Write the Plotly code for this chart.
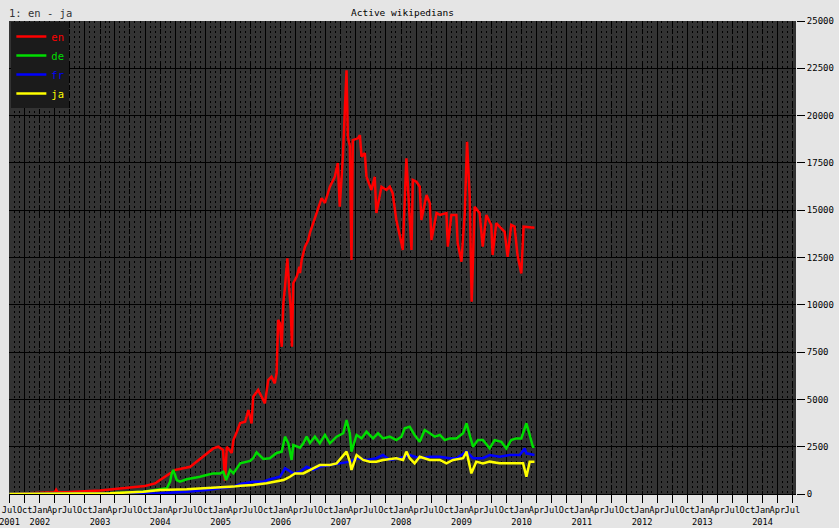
import plotly.graph_objects as go

# Active wikipedians per language
en_dates = [
    "2001-07-01", "2001-10-01", "2002-01-01", "2002-04-01", "2002-04-10", "2002-04-20",
    "2002-07-01", "2002-10-01", "2003-01-01", "2003-04-01", "2003-07-01", "2003-10-01",
    "2003-12-01", "2004-01-01", "2004-02-15", "2004-04-01", "2004-07-01", "2004-09-19",
    "2004-11-18", "2004-12-18", "2005-01-16", "2005-01-28", "2005-02-08", "2005-03-10",
    "2005-03-20", "2005-04-10", "2005-04-30", "2005-05-30", "2005-06-19", "2005-07-08",
    "2005-07-18", "2005-08-17", "2005-09-07", "2005-09-27", "2005-10-17", "2005-11-06",
    "2005-11-26", "2005-12-07", "2005-12-16", "2005-12-27", "2006-01-07", "2006-01-17",
    "2006-01-27", "2006-02-10", "2006-02-22", "2006-03-03", "2006-03-10", "2006-03-18",
    "2006-04-08", "2006-04-24", "2006-04-28", "2006-05-08", "2006-05-28", "2006-06-17",
    "2006-06-27", "2006-08-07", "2006-09-06", "2006-09-26", "2006-10-26", "2006-11-25",
    "2006-12-13", "2006-12-25", "2007-01-13", "2007-02-04", "2007-02-12", "2007-02-24",
    "2007-03-06", "2007-03-14", "2007-04-14", "2007-04-26", "2007-05-06", "2007-05-26",
    "2007-06-05", "2007-07-05", "2007-07-25", "2007-08-04", "2007-09-04", "2007-10-04",
    "2007-10-24", "2007-11-11", "2007-12-03", "2008-01-03", "2008-01-11", "2008-02-02",
    "2008-03-04", "2008-03-12", "2008-04-03", "2008-04-23", "2008-05-03", "2008-06-03",
    "2008-06-23", "2008-07-03", "2008-08-03", "2008-08-23", "2008-10-02", "2008-10-10",
    "2008-11-01", "2008-12-01", "2008-12-09", "2009-01-01", "2009-01-21", "2009-02-04",
    "2009-02-20", "2009-03-04", "2009-03-22", "2009-04-21", "2009-05-10", "2009-06-01",
    "2009-07-01", "2009-07-09", "2009-07-31", "2009-08-20", "2009-09-20", "2009-10-08",
    "2009-10-30", "2009-11-19", "2009-12-07", "2009-12-30", "2010-01-13", "2010-03-20",
]
en_users = [
    0, 30, 60, 90, 230, 90,
    100, 130, 180, 260, 330, 420,
    560, 740, 1000, 1270, 1440, 1970,
    2410, 2500, 2330, 700, 2500, 2170,
    2850, 3290, 3750, 3820, 4440, 3730,
    5140, 5500, 5140, 4790, 6020, 6200,
    5850, 6390, 9200, 9020, 7780, 10080,
    10960, 12460, 10780, 9720, 7780, 11140,
    11490, 12010, 11680, 12370, 13070, 13420,
    13800, 14850, 15640, 15380, 16240, 16770,
    17490, 15180, 17830, 22400, 18880, 18400,
    12370, 18700, 18800, 18970, 17830, 18020,
    16770, 16070, 16770, 14850, 16240, 16070,
    16240, 15900, 14480, 13260, 12900, 17740,
    12900, 16600, 16500, 16240, 14480, 15800,
    15380, 13420, 14850, 14750, 14850, 13070,
    14750, 14750, 13260, 12280, 14850, 18620,
    15720, 10160, 15180, 14850, 13070, 14750,
    14220, 12630, 14320, 14130, 13860, 12540,
    14220, 14130, 12630, 11660, 14130, 14070,
]

de_dates = [
    "2001-07-01", "2003-01-01", "2003-05-20", "2003-09-18", "2004-02-10", "2004-03-01",
    "2004-03-11", "2004-03-21", "2004-04-10", "2004-04-30", "2004-06-10", "2004-07-19",
    "2004-08-29", "2004-10-09", "2004-11-18", "2004-12-29", "2005-01-18", "2005-02-04",
    "2005-02-28", "2005-03-20", "2005-04-30", "2005-06-29", "2005-07-18", "2005-08-07",
    "2005-09-17", "2005-10-27", "2005-12-07", "2006-01-07", "2006-01-27", "2006-02-16",
    "2006-03-08", "2006-03-18", "2006-04-28", "2006-05-18", "2006-06-07", "2006-06-27",
    "2006-07-27", "2006-08-26", "2006-09-26", "2006-10-26", "2006-12-06", "2007-01-15",
    "2007-02-04", "2007-02-24", "2007-03-06", "2007-04-06", "2007-05-06", "2007-06-05",
    "2007-07-15", "2007-08-14", "2007-09-13", "2007-10-24", "2007-12-03", "2008-01-03",
    "2008-01-23", "2008-02-22", "2008-03-23", "2008-04-23", "2008-05-23", "2008-06-23",
    "2008-07-23", "2008-08-23", "2008-09-22", "2008-10-22", "2008-12-01", "2009-01-11",
    "2009-02-01", "2009-02-20", "2009-03-12", "2009-04-11", "2009-05-11", "2009-06-21",
    "2009-07-21", "2009-08-31", "2009-09-30", "2009-10-30", "2009-11-29", "2009-12-30",
    "2010-01-30", "2010-02-19", "2010-03-10", "2010-03-20",
]
de_users = [
    0, 20, 70, 120, 300, 650,
    1090, 1270, 740, 650, 780, 830,
    910, 1000, 1090, 1090, 1180, 740,
    1270, 1090, 1620, 1750, 1890, 2200,
    1850, 1890, 2170, 2240, 3030, 2680,
    1800, 2590, 2450, 2680, 3030, 2700,
    3030, 2680, 3120, 2680, 3030, 3210,
    3910, 3210, 2240, 3120, 2940, 3290,
    2940, 3210, 2940, 3030, 2850, 3030,
    3470, 3560, 3120, 2760, 3380, 3210,
    3030, 3120, 2850, 2940, 2940, 3210,
    3740, 3120, 2500, 2850, 2850, 2410,
    2850, 2760, 2410, 2850, 2940, 2940,
    3740, 3120, 2500, 2500,
]

fr_dates = [
    "2001-07-01", "2003-07-01", "2004-01-01", "2004-06-10", "2004-10-09", "2005-03-20",
    "2005-04-30", "2005-07-18", "2005-09-17", "2005-10-27", "2005-12-27", "2006-01-27",
    "2006-02-26", "2006-03-18", "2006-04-28", "2006-06-07", "2006-07-17", "2006-08-26",
    "2006-10-26", "2006-12-25", "2007-02-24", "2007-04-06", "2007-06-05", "2007-08-04",
    "2007-09-13", "2007-10-24", "2007-12-23", "2008-02-22", "2008-04-23", "2008-06-23",
    "2008-08-23", "2008-10-22", "2008-12-01", "2009-02-01", "2009-03-12", "2009-05-11",
    "2009-06-21", "2009-08-20", "2009-10-20", "2009-12-20", "2010-01-20", "2010-01-30",
    "2010-03-20",
]
fr_users = [
    0, 0, 35, 120, 210, 390,
    530, 650, 650, 780, 910, 1360,
    1180, 1090, 1180, 1440, 1270, 1440,
    1530, 1620, 1710, 1890, 1800, 1890,
    2060, 1800, 1890, 2060, 1890, 1970,
    1970, 1890, 1890, 2240, 1890, 1890,
    2060, 1970, 2060, 2060, 2410, 2150,
    2060,
]

ja_dates = [
    "2001-07-01", "2003-03-03", "2003-09-20", "2004-01-01", "2004-06-10", "2004-10-09",
    "2005-03-20", "2005-04-30", "2005-07-18", "2005-10-07", "2005-11-16", "2006-01-17",
    "2006-02-07", "2006-02-26", "2006-03-28", "2006-05-18", "2006-07-17", "2006-08-26",
    "2006-10-26", "2006-12-06", "2007-02-04", "2007-02-24", "2007-03-06", "2007-04-06",
    "2007-05-16", "2007-06-25", "2007-08-04", "2007-09-13", "2007-12-03", "2008-01-13",
    "2008-02-02", "2008-02-22", "2008-03-23", "2008-04-23", "2008-06-23", "2008-08-23",
    "2008-10-02", "2008-11-11", "2009-01-11", "2009-02-01", "2009-03-02", "2009-04-01",
    "2009-05-11", "2009-06-21", "2009-08-20", "2009-10-20", "2009-11-29", "2010-01-10",
    "2010-01-30", "2010-02-19", "2010-03-20",
]
ja_users = [
    0, 35, 120, 210, 250, 300,
    390, 440, 480, 570, 650, 740,
    830, 910, 1090, 1090, 1360, 1530,
    1530, 1620, 2240, 1710, 1270, 2060,
    1800, 1710, 1710, 1800, 1890, 1800,
    2240, 1890, 1620, 1970, 1800, 1800,
    1620, 1800, 1890, 2240, 1090, 1710,
    1620, 1710, 1620, 1620, 1620, 1620,
    910, 1710, 1710,
]

series = [
    ("en", en_dates, en_users, "#ff0000"),
    ("de", de_dates, de_users, "#00dd00"),
    ("fr", fr_dates, fr_users, "#0000ff"),
    ("ja", ja_dates, ja_users, "#ffff00"),
]

month_names = ["Jan", "Apr", "Jul", "Oct"]
x_start, x_end = "2001-06-28", "2014-07-23"

# quarterly tick labels, year added under January (and under the first tick)
tick_vals, tick_text = [], []
for year in range(2001, 2015):
    for q, name in enumerate(month_names):
        date = f"{year}-{3 * q + 1:02d}-01"
        if date < "2001-07-01" or date > "2014-07-01":
            continue
        label = name
        if name == "Jan" or date == "2001-07-01":
            label = f"{name}<br>{year}"
        tick_vals.append(date)
        tick_text.append(label)

mono = "DejaVu Sans Mono"

fig = go.Figure()
for name, dates, users, color in series:
    fig.add_trace(go.Scatter(
        x=dates, y=users, mode="lines",
        name=f"<span style='color:{color}'>{name}</span>",
        line=dict(color=color, width=2.5),
    ))

# empty traces so the grid-only overlay axes are drawn
for ax in ("x2", "x3"):
    fig.add_trace(go.Scatter(x=[], y=[], xaxis=ax, showlegend=False, hoverinfo="skip"))

fig.update_layout(
    width=839, height=528,
    margin=dict(l=9, r=43, t=21, b=34, autoexpand=False),
    paper_bgcolor="#e5e5e5",
    plot_bgcolor="#333333",
    font=dict(family=mono, size=9, color="black"),
    showlegend=True,
    legend=dict(
        x=0.003, y=0.998, xanchor="left", yanchor="top",
        bgcolor="#1b1b1b", borderwidth=0,
        font=dict(family=mono, size=10.5),
        itemwidth=30, tracegroupgap=0,
    ),
    xaxis=dict(
        type="date", range=[x_start, x_end], automargin=False,
        tickmode="array", tickvals=tick_vals, ticktext=tick_text,
        tickangle=0, ticks="outside", ticklen=8, tickcolor="black",
        ticklabeloverflow="allow",
        tickfont=dict(family=mono, size=8.6, color="black"),
        showgrid=False, zeroline=False, showline=False,
        minor=dict(tickmode="linear", tick0="2001-07-01", dtick="M1",
                   showgrid=True, gridcolor="black", griddash="2px,3px", gridwidth=1),
    ),
    xaxis2=dict(
        type="date", overlaying="x", matches="x", range=[x_start, x_end], automargin=False,
        tickmode="linear", tick0="2001-10-01", dtick="M6",
        showgrid=True, gridcolor="black", gridwidth=1.2,
        showticklabels=False, ticks="", zeroline=False,
    ),
    xaxis3=dict(
        type="date", overlaying="x", matches="x", range=[x_start, x_end], automargin=False,
        tickmode="linear", tick0="2002-01-01", dtick="M6",
        showgrid=True, gridcolor="black", gridwidth=1, griddash="5px,3px",
        showticklabels=False, ticks="", zeroline=False,
    ),
    yaxis=dict(
        side="right", range=[0, 25000], tickmode="linear", tick0=0, dtick=2500,
        tickformat="d", automargin=False,
        ticks="outside", ticklen=8, tickcolor="black",
        tickfont=dict(family=mono, size=9, color="black"),
        showgrid=True, gridcolor="black", gridwidth=1.2,
        zeroline=True, zerolinecolor="black", zerolinewidth=1.2,
        showline=False,
    ),
    annotations=[
        dict(text="1: en - ja", x=0, y=1, xref="paper", yref="paper",
             xanchor="left", yanchor="bottom", xshift=-2, yshift=0,
             showarrow=False, font=dict(family=mono, size=10.5, color="#333333")),
        dict(text="Active wikipedians", x=0.5, y=1, xref="paper", yref="paper",
             xanchor="center", yanchor="bottom", yshift=1,
             showarrow=False, font=dict(family=mono, size=9.5, color="black")),
    ],
)

# drop the default page margin so the figure sits at the window's top-left corner
fig.write_html(
    "out.html",
    config={"displayModeBar": False},
    post_script="document.body.style.margin = '0';",
)
